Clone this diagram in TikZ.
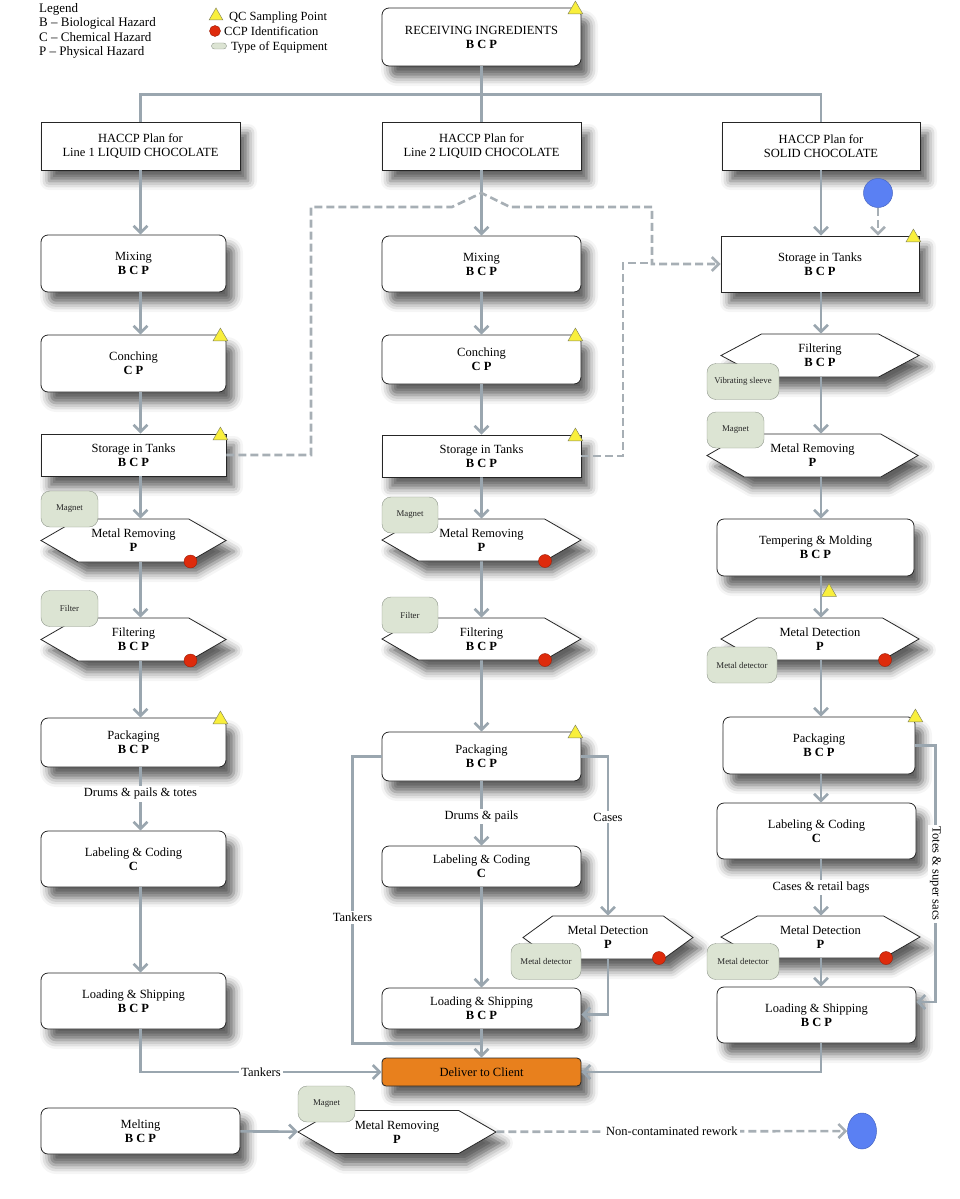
\documentclass[tikz,border=0pt]{standalone}
\usepackage{fontspec}
\setmainfont{Liberation Serif}
\usetikzlibrary{arrows.meta,calc,shapes.geometric,shapes.symbols,shadows.blur}

\definecolor{linegray}{HTML}{9AA6AF}
\definecolor{dashgray}{HTML}{A7AFB5}
\definecolor{qcyellow}{HTML}{F9EF3C}
\definecolor{qcline}{HTML}{8A8A5A}
\definecolor{ccpred}{HTML}{DE2B0C}
\definecolor{equipfill}{HTML}{DCE4D3}
\definecolor{equipline}{HTML}{8E968A}
\definecolor{reworkblue}{HTML}{5A80F3}
\definecolor{deliverorange}{HTML}{E8801D}

\newcommand{\stagefont}{\fontsize{12.5}{14}\selectfont}
\newcommand{\legendfont}{\fontsize{13}{14.5}\selectfont}
\newcommand{\equipfont}{\fontsize{8.8}{10}\selectfont}
\newcommand{\hz}[2]{#1\\\textbf{#2}}

\tikzset{
  softshadow/.style={blur shadow={shadow xshift=8pt, shadow yshift=-11pt, shadow blur radius=9pt, shadow opacity=62}},
  box/.style={draw=black!85, line width=0.8pt, fill=white, align=center, font=\stagefont, inner sep=1pt, softshadow},
  stage/.style={box, rounded corners=7pt},
  hexa/.style={box, signal, signal to=west and east, signal pointer angle=60},
  equip/.style={draw=equipline, fill=equipfill, rounded corners=9pt, minimum height=36pt, inner sep=1pt, font=\equipfont, text=black!85},
  qc/.style={regular polygon, regular polygon sides=3, draw=qcline, fill=qcyellow, minimum size=17pt, inner sep=0pt, line width=0.5pt},
  ccp/.style={circle, fill=ccpred, draw=ccpred!70!black, minimum size=13pt, inner sep=0pt, line width=0.4pt},
  rework/.style={fill=reworkblue, draw=reworkblue!80!black, line width=0.5pt, inner sep=0pt},
  flow/.style={draw=linegray, line width=2.6pt, -{Straight Barb[length=7pt,width=14pt]}},
  link/.style={draw=linegray, line width=2.6pt},
  dashflow/.style={flow, draw=dashgray, dash pattern=on 8pt off 4pt},
  dashlink/.style={link, draw=dashgray, dash pattern=on 8pt off 4pt},
  tag/.style={fill=white, inner sep=2pt, font=\stagefont}
}

\begin{document}
\begin{tikzpicture}[x=1pt,y=-1pt]
    \useasboundingbox (0,0) rectangle (960,1199);
    % legend
    \node[anchor=base west, font=\legendfont, inner sep=0pt] (legtitle) at (39,12.3) {Legend};
    \node[anchor=base west, font=\legendfont, inner sep=0pt] (legb) at (39,27) {B -- Biological Hazard};
    \node[anchor=base west, font=\legendfont, inner sep=0pt] (legc) at (39,41.5) {C -- Chemical Hazard};
    \node[anchor=base west, font=\legendfont, inner sep=0pt] (legp) at (39,56) {P -- Physical Hazard};
    \node[qc, minimum size=16pt] (legqc) at (216,16) {};
    \node[ccp, minimum size=11pt] (legccp) at (215,31) {};
    \node[equip, minimum width=15pt, minimum height=6pt, rounded corners=3pt, inner sep=0pt] (legeq) at (219,46) {};
    \node[anchor=base west, font=\stagefont, inner sep=0pt] (legqct) at (229,20.5) {QC Sampling Point};
    \node[anchor=base west, font=\stagefont, inner sep=0pt] (legccpt) at (224,36) {CCP Identification};
    \node[anchor=base west, font=\stagefont, inner sep=0pt] (legeqt) at (231,51) {Type of Equipment};

    % top of the plan
    \node[stage, minimum width=199pt, minimum height=58pt] (recv) at (481.5,37) {\hz{RECEIVING INGREDIENTS}{B C P}};
    \node[box, minimum width=199pt, minimum height=48pt] (hp1) at (140.5,146) {HACCP Plan for\\Line 1 LIQUID CHOCOLATE};
    \node[box, minimum width=199pt, minimum height=48pt] (hp2) at (481.5,146) {HACCP Plan for\\Line 2 LIQUID CHOCOLATE};
    \node[box, minimum width=198pt, minimum height=48pt] (hp3) at (821,146) {HACCP Plan for\\SOLID CHOCOLATE};

    % line 1
    \node[stage, minimum width=185pt, minimum height=57pt] (mix1) at (133.5,263.5) {\hz{Mixing}{B C P}};
    \node[stage, minimum width=185pt, minimum height=57pt] (con1) at (133.5,363.5) {\hz{Conching}{C P}};
    \node[box, minimum width=185pt, minimum height=42pt] (st1) at (133.5,455) {\hz{Storage in Tanks}{B C P}};
    \node[hexa, minimum width=185pt, minimum height=43pt] (mr1) at (133.5,540.5) {\hz{Metal Removing}{P}};
    \node[hexa, minimum width=185pt, minimum height=43pt] (fi1) at (133.5,639.5) {\hz{Filtering}{B C P}};
    \node[stage, minimum width=185pt, minimum height=49pt] (pk1) at (133.5,742.5) {\hz{Packaging}{B C P}};
    \node[stage, minimum width=185pt, minimum height=56pt] (lc1) at (133.5,859) {\hz{Labeling \& Coding}{C}};
    \node[stage, minimum width=185pt, minimum height=56pt] (ls1) at (133.5,1001) {\hz{Loading \& Shipping}{B C P}};

    % line 2
    \node[stage, minimum width=199pt, minimum height=56pt] (mix2) at (481.5,264) {\hz{Mixing}{B C P}};
    \node[stage, minimum width=199pt, minimum height=49pt] (con2) at (481.5,359.5) {\hz{Conching}{C P}};
    \node[box, minimum width=199pt, minimum height=42pt] (st2) at (481.5,456) {\hz{Storage in Tanks}{B C P}};
    \node[hexa, minimum width=199pt, minimum height=42pt] (mr2) at (481.5,540) {\hz{Metal Removing}{P}};
    \node[hexa, minimum width=199pt, minimum height=42pt] (fi2) at (481.5,639) {\hz{Filtering}{B C P}};
    \node[stage, minimum width=199pt, minimum height=49pt] (pk2) at (481.5,756.5) {\hz{Packaging}{B C P}};
    \node[stage, minimum width=199pt, minimum height=41pt] (lc2) at (481.5,866.5) {\hz{Labeling \& Coding}{C}};
    \node[stage, minimum width=199pt, minimum height=41pt] (ls2) at (481.5,1008.5) {\hz{Loading \& Shipping}{B C P}};
    \node[hexa, signal pointer angle=72, minimum width=170pt, minimum height=43pt] (md2) at (608,937.5) {\hz{Metal Detection}{P}};

    % solid line
    \node[box, minimum width=198pt, minimum height=56pt] (st3) at (820,264) {\hz{Storage in Tanks}{B C P}};
    \node[hexa, signal pointer angle=56, minimum width=198pt, minimum height=43pt] (fi3) at (820,355.5) {\hz{Filtering}{B C P}};
    \node[hexa, minimum width=211pt, minimum height=43pt] (mr3) at (812.5,455.5) {\hz{Metal Removing}{P}};
    \node[stage, minimum width=197pt, minimum height=57pt] (tm3) at (815.5,547.5) {\hz{Tempering \& Molding}{B C P}};
    \node[hexa, minimum width=198pt, minimum height=42pt] (md3) at (820,639) {\hz{Metal Detection}{P}};
    \node[stage, minimum width=192pt, minimum height=57pt] (pk3) at (819,745.5) {\hz{Packaging}{B C P}};
    \node[stage, minimum width=199pt, minimum height=56pt] (lc3) at (816.5,831) {\hz{Labeling \& Coding}{C}};
    \node[hexa, minimum width=199pt, minimum height=42pt] (md4) at (820.5,937) {\hz{Metal Detection}{P}};
    \node[stage, minimum width=199pt, minimum height=56pt] (ls3) at (816.5,1015) {\hz{Loading \& Shipping}{B C P}};

    % delivery and rework
    \node[box, rounded corners=4pt, fill=deliverorange, minimum width=199pt, minimum height=28pt] (dlv) at (481.5,1072) {Deliver to Client};
    \node[stage, minimum width=199pt, minimum height=46pt] (melt) at (140.5,1131) {\hz{Melting}{B C P}};
    \node[hexa, minimum width=198pt, minimum height=43pt] (mr4) at (397,1132) {\hz{Metal Removing}{P}};
    \node[circle, rework, minimum size=29pt] (blue3) at (878,193) {};
    \node[ellipse, rework, minimum width=29pt, minimum height=36pt] (blue4) at (862,1131) {};

    % equipment
    \node[equip, minimum width=57pt] (magnet1) at (69.5,509) {Magnet};
    \node[equip, minimum width=57pt] (filter1) at (69.5,608.5) {Filter};
    \node[equip, minimum width=56pt] (magnet2) at (410,515) {Magnet};
    \node[equip, minimum width=56pt] (filter2) at (410,615) {Filter};
    \node[equip, minimum width=72pt] (vib3) at (743,381.5) {Vibrating sleeve};
    \node[equip, minimum width=57pt] (magnet3) at (735.5,430) {Magnet};
    \node[equip, minimum width=70pt] (det3) at (742,665) {Metal detector};
    \node[equip, minimum width=70pt] (det2) at (546,961.5) {Metal detector};
    \node[equip, minimum width=72pt] (det4) at (743,961.5) {Metal detector};
    \node[equip, minimum width=57pt] (magnet4) at (326.5,1104) {Magnet};

    % CCP points
    \node[ccp] (ccp1) at (190.5,561.5) {};
    \node[ccp] (ccp2) at (190.5,660.5) {};
    \node[ccp] (ccp3) at (545,561) {};
    \node[ccp] (ccp4) at (545,660) {};
    \node[ccp] (ccp5) at (885,660) {};
    \node[ccp] (ccp6) at (659,958) {};
    \node[ccp] (ccp7) at (886,958) {};

    % QC sampling points
    \node[qc] (qc1) at ([shift={(-6,2)}]recv.north east) {};
    \node[qc] (qc2) at ([shift={(-6,2)}]con1.north east) {};
    \node[qc] (qc3) at ([shift={(-6,2)}]st1.north east) {};
    \node[qc] (qc4) at ([shift={(-6,2)}]pk1.north east) {};
    \node[qc] (qc5) at ([shift={(-6,2)}]con2.north east) {};
    \node[qc] (qc6) at ([shift={(-6,2)}]st2.north east) {};
    \node[qc] (qc7) at ([shift={(-6,2)}]pk2.north east) {};
    \node[qc] (qc8) at ([shift={(-6,2)}]st3.north east) {};
    \node[qc] (qc9) at ([shift={(0,1)}]pk3.north east) {};
    \node[qc] (qc10) at (829,592) {};

    % connectors from the top
    \draw[link] (recv.south) -- (hp2.north);
    \draw[link] (hp1.north) -- ++(0,-27) -| (hp3.north);

    % line 1 flow
    \draw[flow] (hp1.south) -- (mix1.north -| hp1.south);
    \draw[flow] (mix1.south -| hp1.south) -- (con1.north -| hp1.south);
    \draw[flow] (con1.south -| hp1.south) -- (st1.north -| hp1.south);
    \draw[flow] (st1.south -| hp1.south) -- (mr1.north -| hp1.south);
    \draw[flow] (mr1.south -| hp1.south) -- (fi1.north -| hp1.south);
    \draw[flow] (fi1.south -| hp1.south) -- (pk1.north -| hp1.south);
    \draw[flow] (pk1.south -| hp1.south) -- node[tag, pos=0.42] (tagdp1) {Drums \& pails \& totes} (lc1.north -| hp1.south);
    \draw[flow] (lc1.south -| hp1.south) -- (ls1.north -| hp1.south);
    \draw[flow] (ls1.south -| hp1.south) |- node[tag, pos=0.75] (tagtk1) {Tankers} (dlv.west);

    % line 2 flow
    \draw[flow] (hp2.south) -- (mix2.north);
    \draw[flow] (mix2) -- (con2);
    \draw[flow] (con2) -- (st2);
    \draw[flow] (st2) -- (mr2);
    \draw[flow] (mr2) -- (fi2);
    \draw[flow] (fi2) -- (pk2);
    \draw[flow] (pk2) -- node[tag, pos=0.55] (tagdp2) {Drums \& pails} (lc2);
    \draw[flow] (lc2) -- (ls2);
    \draw[flow] (ls2) -- (dlv);
    \coordinate (merge2) at ($(ls2.south)!0.5!(dlv.north)$);
    \draw[link] (pk2.west) -- ++(-29,0) coordinate (tk2) -- node[tag, pos=0.56] (tagtk2) {Tankers} (tk2 |- merge2) -- (merge2);
    \draw[flow] (pk2.east) -| node[tag, pos=0.69] (tagcs2) {Cases} (md2.north);
    \draw[flow] (md2.south) |- ([yshift=-6pt]ls2.east);

    % solid flow
    \draw[flow] (hp3.south) -- (st3.north -| hp3.south);
    \draw[dashflow] (blue3) -- (blue3.south |- st3.north);
    \draw[flow] (st3.south -| hp3.south) -- (fi3.north -| hp3.south);
    \draw[flow] (fi3.south -| hp3.south) -- (mr3.north -| hp3.south);
    \draw[flow] (mr3.south -| hp3.south) -- (tm3.north -| hp3.south);
    \draw[flow] (tm3.south -| hp3.south) -- (md3.north -| hp3.south);
    \draw[flow] (md3.south -| hp3.south) -- (pk3.north -| hp3.south);
    \draw[flow] (pk3.south -| hp3.south) -- (lc3.north -| hp3.south);
    \draw[flow] (lc3.south -| hp3.south) -- node[tag] (tagcr3) {Cases \& retail bags} (md4.north -| hp3.south);
    \draw[flow] (md4.south -| hp3.south) -- (ls3.north -| hp3.south);
    \draw[flow] (ls3.south -| hp3.south) |- (dlv.east);
    \draw[flow] (pk3.east) -- ++(20,0) |- node[tag, pos=0.25, rotate=-90] (tagts3) {Totes \& super sacs} ([yshift=13pt]ls3.east);

    % storage tanks to solid line
    \coordinate (hop) at (481.5,193);
    \coordinate (hopl) at (452,207);
    \coordinate (hopr) at (510,207);
    \draw[dashflow] (st1.east) -| (311,207) -- (hopl) -- (hop) -- (hopr) -- (652,207) |- (st3.west);
    \draw[dashlink] (st2.east) -| (623,263) -- (652,263);

    % rework
    \draw[flow] (melt) -- (mr4);
    \draw[dashflow] (mr4) -- node[tag] (tagrw) {Non-contaminated rework} (blue4);
\end{tikzpicture}
\end{document}
